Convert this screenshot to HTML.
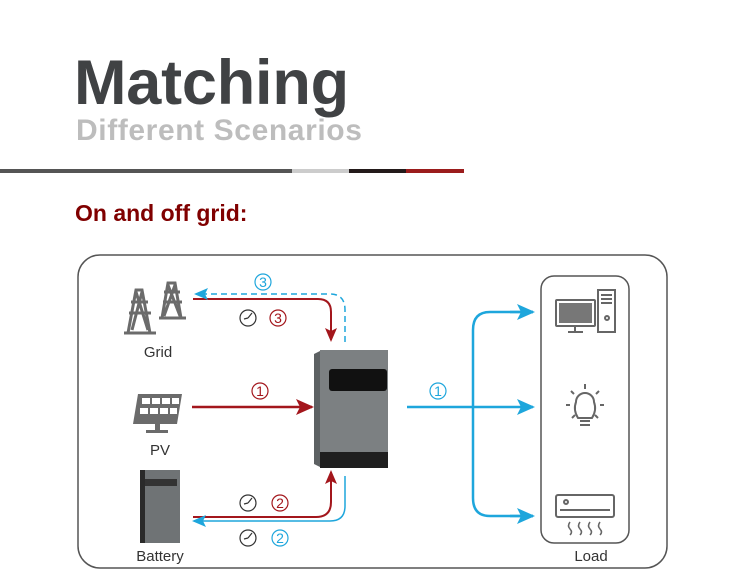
<!DOCTYPE html>
<html><head><meta charset="utf-8"><style>
body{margin:0;background:#fff;width:750px;height:580px;overflow:hidden;font-family:"Liberation Sans",sans-serif;position:relative}
.t{position:absolute;white-space:nowrap}
</style></head><body>
<div class="t" style="left:74px;top:47px;font-size:63px;font-weight:bold;color:#404244;letter-spacing:-0.2px">Matching</div>
<div class="t" style="left:76px;top:114px;font-size:30px;font-weight:bold;color:#bdbdbd;letter-spacing:0.6px">Different Scenarios</div>
<div style="position:absolute;left:0;top:169px;width:292px;height:4px;background:#555"></div>
<div style="position:absolute;left:292px;top:169px;width:57px;height:4px;background:#ccc"></div>
<div style="position:absolute;left:349px;top:169px;width:57px;height:4px;background:#231a1a"></div>
<div style="position:absolute;left:406px;top:169px;width:58px;height:4px;background:#9b1c1c"></div>
<div class="t" style="left:75px;top:200px;font-size:23px;font-weight:bold;color:#800000">On and off grid:</div>
<svg width="750" height="580" style="position:absolute;left:0;top:0" font-family="Liberation Sans, sans-serif">
<defs>
<marker id="r" markerWidth="14" markerHeight="12" refX="12" refY="6" orient="auto" markerUnits="userSpaceOnUse"><path d="M0,0L14,6L0,12L3,6z" fill="#a3161c"/></marker>
<marker id="b" markerWidth="14" markerHeight="12" refX="12" refY="6" orient="auto" markerUnits="userSpaceOnUse"><path d="M0,0L14,6L0,12L3,6z" fill="#1ea6dc"/></marker>
<marker id="R" markerWidth="18" markerHeight="16" refX="16" refY="8" orient="auto" markerUnits="userSpaceOnUse"><path d="M0,0L18,8L0,16L4,8z" fill="#a3161c"/></marker>
<marker id="B" markerWidth="18" markerHeight="16" refX="16" refY="8" orient="auto" markerUnits="userSpaceOnUse"><path d="M0,0L18,8L0,16L4,8z" fill="#1ea6dc"/></marker>
</defs>
<rect x="78" y="255" width="589" height="313" rx="22" fill="none" stroke="#555" stroke-width="1.5"/>
<rect x="541" y="276" width="88" height="267" rx="13" fill="none" stroke="#555" stroke-width="1.5"/>
<g stroke="#6b6b6b" stroke-width="3" fill="none">
<path d="M128,333L136,290L142,290L150,333M124,333H156M131,302H148M129,313H151M136,292L148,330M142,292L132,330"/>
<path d="M162,318L168,283L175,283L181,318M159,318H186M164,292H180M163,302H182M168,285L180,316M175,285L164,316"/>
</g>
<text x="158" y="357" font-size="15" text-anchor="middle" fill="#333">Grid</text>
<g>
<path d="M138,394H182L177,424H133z" fill="#6b6b6b"/>
<g fill="#fff"><rect x="142" y="398" width="8" height="6"/><rect x="152" y="398" width="8" height="6"/><rect x="162" y="398" width="8" height="6"/><rect x="172" y="398" width="7" height="6"/>
<rect x="140" y="408" width="8" height="6"/><rect x="150" y="408" width="8" height="6"/><rect x="160" y="408" width="8" height="6"/><rect x="170" y="408" width="7" height="6"/></g>
<rect x="155" y="424" width="5" height="6" fill="#6b6b6b"/><rect x="146" y="430" width="22" height="3" fill="#6b6b6b"/>
</g>
<text x="160" y="455" font-size="15" text-anchor="middle" fill="#333">PV</text>
<rect x="140" y="470" width="40" height="73" fill="#6f7375"/>
<rect x="140" y="470" width="5" height="73" fill="#2a2a2a"/>
<rect x="145" y="479" width="32" height="7" fill="#333"/>
<text x="160" y="561" font-size="15" text-anchor="middle" fill="#333">Battery</text>
<path d="M314,354L322,350V468L314,464z" fill="#5d6163"/>
<rect x="320" y="350" width="68" height="118" fill="#7c8082"/>
<rect x="329" y="369" width="58" height="22" rx="3" fill="#111"/>
<rect x="320" y="452" width="68" height="16" fill="#1f1f1f"/>
<path d="M193,299H318Q331,299 331,312V340" fill="none" stroke="#a3161c" stroke-width="2" marker-end="url(#r)"/>
<path d="M345,342V310Q345,294 330,294H196" fill="none" stroke="#1ea6dc" stroke-width="1.5" stroke-dasharray="6,4" marker-end="url(#b)"/>
<path d="M192,407H312" fill="none" stroke="#a3161c" stroke-width="2.5" marker-end="url(#R)"/>
<path d="M193,517H316Q331,517 331,502V472" fill="none" stroke="#a3161c" stroke-width="2" marker-end="url(#r)"/>
<path d="M345,476V506Q345,521 330,521H194" fill="none" stroke="#1ea6dc" stroke-width="1.5" marker-end="url(#b)"/>
<path d="M407,407H533" fill="none" stroke="#1ea6dc" stroke-width="2.5" marker-end="url(#B)"/>
<path d="M533,312H490Q473,312 473,330V498Q473,516 490,516H533" fill="none" stroke="#1ea6dc" stroke-width="2.5"/>
<path d="M510,312H533" stroke="#1ea6dc" stroke-width="2.5" marker-end="url(#B)"/>
<path d="M510,516H533" stroke="#1ea6dc" stroke-width="2.5" marker-end="url(#B)"/>
<g font-size="14" text-anchor="middle" stroke-width="1.2" fill="none">
<circle cx="263" cy="282" r="8" stroke="#1ea6dc"/><text x="263" y="287" fill="#1ea6dc" stroke="none">3</text>
<circle cx="248" cy="318" r="8" stroke="#333"/><path d="M248,318L252,313M248,318L244,319" stroke="#333"/>
<circle cx="278" cy="318" r="8" stroke="#a3161c"/><text x="278" y="323" fill="#a3161c" stroke="none">3</text>
<circle cx="260" cy="391" r="8" stroke="#a3161c"/><text x="260" y="396" fill="#a3161c" stroke="none">1</text>
<circle cx="438" cy="391" r="8" stroke="#1ea6dc"/><text x="438" y="396" fill="#1ea6dc" stroke="none">1</text>
<circle cx="248" cy="503" r="8" stroke="#333"/><path d="M248,503L252,498M248,503L244,504" stroke="#333"/>
<circle cx="280" cy="503" r="8" stroke="#a3161c"/><text x="280" y="508" fill="#a3161c" stroke="none">2</text>
<circle cx="248" cy="538" r="8" stroke="#333"/><path d="M248,538L252,533M248,538L244,539" stroke="#333"/>
<circle cx="280" cy="538" r="8" stroke="#1ea6dc"/><text x="280" y="543" fill="#1ea6dc" stroke="none">2</text>
</g>
<g stroke="#666" stroke-width="2" fill="none">
<rect x="556" y="300" width="39" height="26" rx="1"/><rect x="559" y="303" width="33" height="20" fill="#777" stroke="none"/>
<path d="M575,326V331M568,332H583"/>
<rect x="598" y="290" width="17" height="42"/><path d="M601,295H612M601,299H612M601,303H612"/><circle cx="607" cy="318" r="2"/>
<path d="M578,418Q573,410 576,402A9,9 0 1 1 594,402Q597,410 592,418Z"/><path d="M580,421H590M580,425H590"/>
<path d="M585,384V389M571,391L574,394M599,391L596,394M566,405H570M600,405H604M572,418L575,415M598,418L595,415"/>
<rect x="556" y="495" width="58" height="22" rx="2"/><path d="M560,510H610"/><circle cx="566" cy="502" r="2"/>
<path d="M570,522q-3,4 0,7q3,3 0,6M580,522q-3,4 0,7q3,3 0,6M590,522q-3,4 0,7q3,3 0,6M600,522q-3,4 0,7q3,3 0,6" stroke-width="1.5"/>
</g>
<text x="591" y="561" font-size="15" text-anchor="middle" fill="#333">Load</text>
</svg>
</body></html>
